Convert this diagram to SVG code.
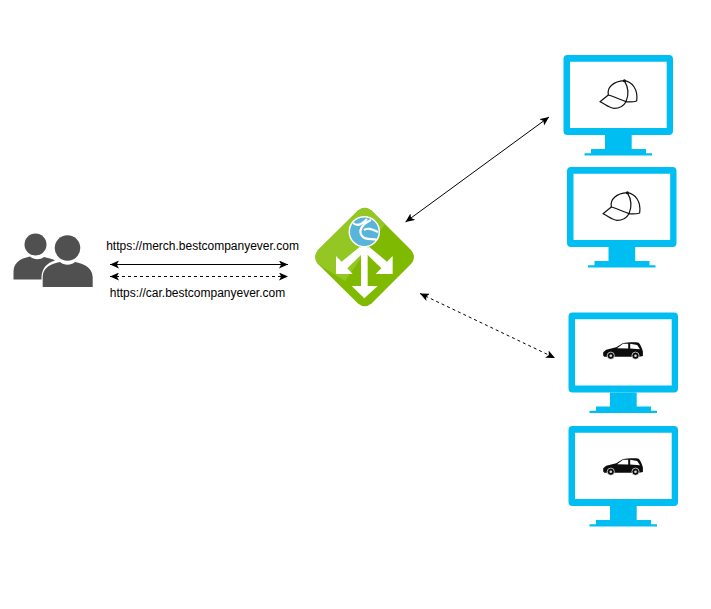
<svg xmlns="http://www.w3.org/2000/svg" xmlns:xlink="http://www.w3.org/1999/xlink" width="711" height="609" viewBox="0 0 711 609">
<style>
.conn{fill:none;stroke:#000;stroke-width:1;marker-start:url(#arrow);marker-end:url(#arrow)}
.dash{stroke-dasharray:3 3}
.lbl{font-family:"Liberation Sans",Arial,sans-serif;font-size:12px;fill:#000;text-anchor:middle}
.scr{fill:#00bef2}
.hat{fill:none;stroke:#111;stroke-width:3.6;stroke-linejoin:round;stroke-linecap:round}
</style>
<defs>
<marker id="arrow" viewBox="0 0 10 8" refX="9" refY="4" markerWidth="10" markerHeight="8" markerUnits="userSpaceOnUse" orient="auto-start-reverse">
<path d="M0 0L9 4L0 8L2.200 4Z" fill="#000"/>
</marker>
<g id="monitor">
<path class="scr" fill-rule="evenodd" d="M4 0H105.500A4 4 0 0 1 109.500 4V76A4 4 0 0 1 105.500 80H4A4 4 0 0 1 0 76V4A4 4 0 0 1 4 0ZM6.500 6.700V73H103.200V6.700Z"/>
<path class="scr" d="M41.500 80H68.200V94H82.500V98.200H88.500V100.500H21V98.200H27.500V94H41.500Z"/>
</g>
<g id="hat">
<g transform="scale(.3333)" class="hat">
<path d="M55 75C50 52 70 34 103 32C127 36 145 58 140 93C130 96 118 96 108 95C88 88 72 80 55 75Z"/>
<path d="M55 75L30 95C45 102 58 114 72 115C88 115 102 106 108 95"/>
<path d="M103 32C115 52 117 75 108 95"/>
</g>
<circle cx="34.400" cy="10.700" r="1.500" fill="#111"/>
</g>
<g id="car">
<path d="M0 13.500V10.300L3 7.800L13 5.200L19.500 1.300C25 0 32 0 35.500 .7C37.500 3 38.800 6 39.700 9.500V14L36 14.700H6L1 14.700Z" fill="#0c0c0c"/>
<path d="M13.800 6.200L19.800 1.800L25 1.800V6.500ZM27 1.800L34 3L36.800 7.200L27 6.500Z" fill="#fff"/>
<circle cx="7.600" cy="13.700" r="3.600" fill="#0c0c0c" stroke="#fff" stroke-width=".7"/>
<circle cx="7.600" cy="13.700" r="1.300" fill="#ddd"/>
<circle cx="32.300" cy="13.700" r="3.600" fill="#0c0c0c" stroke="#fff" stroke-width=".7"/>
<circle cx="32.300" cy="13.700" r="1.300" fill="#ddd"/>
</g>
</defs>

<g id="connectors">
<line class="conn" x1="110" y1="264.500" x2="288" y2="264.500"/>
<line class="conn dash" x1="110" y1="276.500" x2="288" y2="276.500"/>
<line class="conn" x1="405.500" y1="222" x2="549" y2="117"/>
<line class="conn dash" x1="420" y1="293.500" x2="555" y2="358"/>
</g>

<g id="users">
<circle cx="35.500" cy="244.500" r="11" fill="#505050"/>
<path d="M13.500 279.500V271C14 261 23 258 30 256.500C34 260 40 260 44 257C48 258 52 258.500 55 260.500C47 263 42 268 41.500 277V279.500Z" fill="#505050"/>
<circle cx="67.500" cy="248" r="12.800" fill="#505050"/>
<path d="M42.700 287V277C43 267 51 264 60 262C64 265.500 71 265.500 75 262C84 264 92 267 92.700 277V287Z" fill="#505050"/>
</g>

<g id="url-labels">
<text class="lbl" x="202.500" y="250">https://merch.bestcompanyever.com</text>
<text class="lbl" x="197.500" y="297">https://car.bestcompanyever.com</text>
</g>

<g id="gateway">
<path d="M358 210.500Q364.700 205 371.500 210.500L411 250Q417 257 411 264L371.500 303.500Q364.700 309 358 303.500L318 264Q312.500 257 318 250Z" fill="#7fba00"/>
<path d="M358 210.500Q364.700 205 371.500 210.500L385 224L345 281L318 264Q312.500 257 318 250Z" fill="#95c724"/>
<g transform="translate(305 200) scale(.3333)" fill="#fff">
<path d="M168 140H188V258H218L178 295L140 258H168Z"/>
<path d="M165 140L178 155L127 205L143 222H93V168L110 185Z"/>
<path d="M192 140L178 155L229 205L212 222H263V168L246 185Z"/>
</g>
<circle cx="364.300" cy="231.700" r="15" fill="#59b4d9" stroke="#fff" stroke-width="1.500"/>
<path d="M353 223C358 227 362 224 367 219M371 220C362 224 358 231 362 236C366 241 372 238 377 240M364 230C369 227 373 230 378 232" fill="none" stroke="#fff" stroke-width="2.200"/>
</g>

<g id="monitor-merch-1">
<use href="#monitor" x="563.500" y="55"/>
<use href="#hat" x="590" y="70"/>
</g>
<g id="monitor-merch-2">
<use href="#monitor" x="567" y="167"/>
<use href="#hat" x="593" y="182"/>
</g>
<g id="monitor-car-1">
<use href="#monitor" x="568.500" y="312.500"/>
<use href="#car" x="603.200" y="342"/>
</g>
<g id="monitor-car-2">
<use href="#monitor" x="568.500" y="426"/>
<use href="#car" x="603.200" y="458"/>
</g>
</svg>
